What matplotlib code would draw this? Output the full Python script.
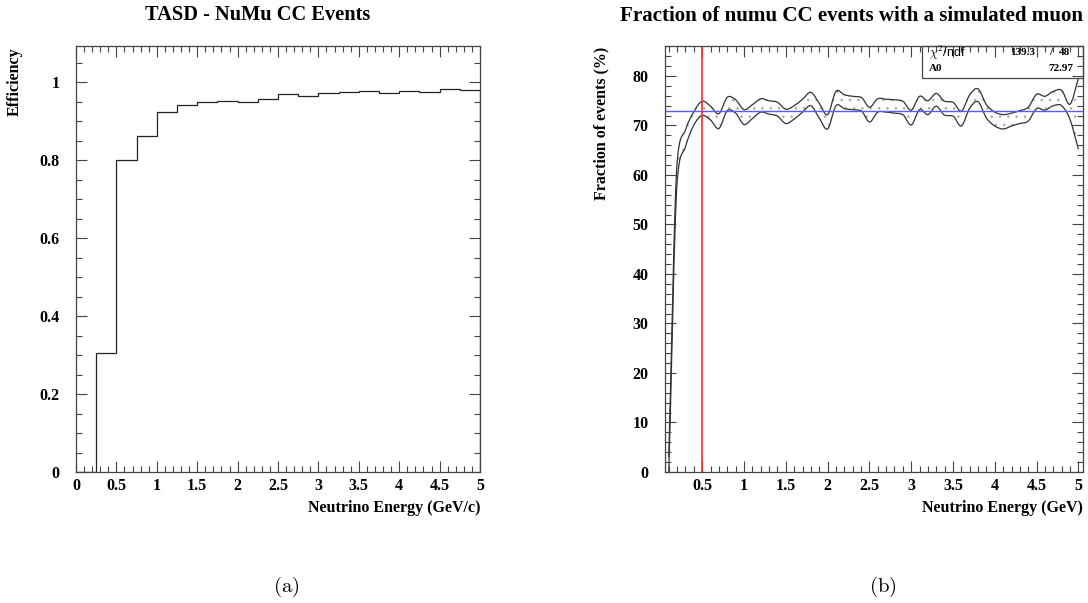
import numpy as np
import matplotlib
matplotlib.use("Agg")
import matplotlib.pyplot as plt
from matplotlib.path import Path
from matplotlib.patches import PathPatch, Rectangle
from matplotlib.ticker import MultipleLocator, FuncFormatter

# ---------------- data ----------------
# (a) efficiency histogram
eff_edges = [0.0, 0.25, 0.5, 0.75, 1.0, 1.25, 1.5, 1.75, 2.0, 2.25, 2.5,
             2.75, 3.0, 3.25, 3.5, 3.75, 4.0, 4.25, 4.5, 4.75, 5.0]
eff_values = [0.0, 0.305, 0.800, 0.861, 0.923, 0.942, 0.950, 0.952, 0.950,
              0.956, 0.969, 0.965, 0.972, 0.975, 0.978, 0.972, 0.978, 0.975,
              0.983, 0.979]

# (b) fraction of events, error band (upper / lower) at bin centres
frac_x = [0.1, 0.2, 0.3, 0.4, 0.5, 0.6, 0.7, 0.8, 0.9, 1.0,
          1.1, 1.2, 1.3, 1.4, 1.5, 1.6, 1.7, 1.8, 1.9, 2.0,
          2.1, 2.2, 2.3, 2.4, 2.5, 2.6, 2.7, 2.8, 2.9, 3.0,
          3.1, 3.2, 3.3, 3.4, 3.5, 3.6, 3.7, 3.8, 3.9, 4.0,
          4.1, 4.2, 4.3, 4.4, 4.5, 4.6, 4.7, 4.8, 4.9, 5.0]
frac_upper = [3.0, 62.5, 69.1, 72.8, 74.9, 73.9, 72.4, 75.7, 75.2, 73.2,
              74.2, 75.4, 75.0, 74.7, 73.3, 74.0, 75.3, 76.7, 74.5, 72.2,
              76.9, 76.2, 75.9, 75.7, 73.7, 75.4, 75.3, 75.2, 74.9, 73.1,
              75.9, 75.0, 76.5, 74.9, 74.7, 72.9, 76.2, 77.4, 74.2, 72.7,
              72.2, 72.5, 73.0, 73.7, 76.3, 75.9, 76.9, 77.1, 74.3, 79.5]
frac_lower = [0.0, 58.5, 65.7, 70.1, 72.0, 71.1, 69.4, 73.0, 72.5, 70.2,
              71.4, 72.7, 72.3, 71.9, 70.4, 71.3, 72.7, 74.0, 71.5, 69.3,
              74.0, 73.4, 73.2, 73.0, 70.7, 72.7, 72.7, 72.5, 72.2, 70.1,
              73.2, 72.2, 73.9, 72.1, 71.9, 69.9, 73.5, 74.8, 71.5, 69.9,
              69.3, 69.9, 70.4, 70.9, 73.4, 73.1, 74.0, 74.0, 71.2, 65.2]
fit_A0 = 72.97
fit_chi2 = 139.3
fit_ndf = 48
cut_energy = 0.5

# ---------------- style ----------------
SERIF = "Liberation Serif"
frame_col = "#444444"
W, H = 1088, 603
plt.rcParams["mathtext.fontset"] = "cm"
plt.rcParams["hatch.linewidth"] = 0.6
fig = plt.figure(figsize=(W / 100, H / 100), dpi=100)


def ax_rect(l, t, r, b):
    return [l / W, 1 - b / H, (r - l) / W, (b - t) / H]


def style_axes(ax):
    for s in ax.spines.values():
        s.set_color(frame_col)
        s.set_linewidth(0.9)
    ax.tick_params(which="both", direction="in", top=True, right=True,
                   color=frame_col, width=0.8, labelsize=11.5, pad=4)
    ax.tick_params(which="major", length=8)
    ax.tick_params(which="minor", length=4.3)
    ax.tick_params(axis="y", which="both", pad=12)
    for lab in ax.get_xticklabels() + ax.get_yticklabels():
        lab.set_fontfamily(SERIF)
        lab.set_fontweight("bold")


gfmt = FuncFormatter(lambda v, p: "%g" % round(v, 6))

# ---------------- (a) ----------------
axa = fig.add_axes(ax_rect(76, 46, 480, 472))
axa.stairs(eff_values, eff_edges, color="#222222", linewidth=0.9)
axa.set_xlim(0, 5)
axa.set_ylim(0, 1.0925)
axa.xaxis.set_major_locator(MultipleLocator(0.5))
axa.xaxis.set_minor_locator(MultipleLocator(0.1))
axa.yaxis.set_major_locator(MultipleLocator(0.2))
axa.yaxis.set_minor_locator(MultipleLocator(0.05))
axa.xaxis.set_major_formatter(gfmt)
axa.yaxis.set_major_formatter(gfmt)
style_axes(axa)

fig.text(258 / W, 1 - 15.5 / H, "TASD - NuMu CC Events", ha="center",
         va="center", family=SERIF, weight="bold", size=14.7)
fig.text(15 / W, 1 - 47 / H, "Efficiency", rotation=90, ha="center",
         va="top", family=SERIF, weight="bold", size=11.5)
fig.text(480 / W, 1 - 508.5 / H, "Neutrino Energy (GeV/c)", ha="right",
         va="center", family=SERIF, weight="bold", size=11.5)

# ---------------- (b) ----------------
axb = fig.add_axes(ax_rect(665, 46, 1083, 472))
axb.set_xlim(0.055, 5.055)
axb.set_ylim(0, 86.06)


def smooth_path_vertices(xs, ys):
    """Smooth curve through the points (Catmull-Rom tangents, limited to
    avoid overshoot on monotone stretches), expressed as cubic Bezier
    control points that matplotlib draws with CURVE4 path segments."""
    x = np.asarray(xs, float)
    y = np.asarray(ys, float)
    n = len(x)
    h = np.diff(x)
    d = np.diff(y) / h
    m = np.empty(n)
    m[0], m[-1] = d[0], d[-1]
    for k in range(1, n - 1):
        mk = (y[k + 1] - y[k - 1]) / (x[k + 1] - x[k - 1])
        if d[k - 1] * d[k] > 0:
            lim = 3 * min(abs(d[k - 1]), abs(d[k]))
            mk = np.sign(mk) * min(abs(mk), lim)
        m[k] = mk
    verts = [(x[0], y[0])]
    for i in range(n - 1):
        verts.append((x[i] + h[i] / 3, y[i] + m[i] * h[i] / 3))
        verts.append((x[i + 1] - h[i] / 3, y[i + 1] - m[i + 1] * h[i] / 3))
        verts.append((x[i + 1], y[i + 1]))
    return np.array(verts)


vu = smooth_path_vertices(frac_x, frac_upper)
vl = smooth_path_vertices(frac_x, frac_lower)
codes_line = [Path.MOVETO] + [Path.CURVE4] * (len(vu) - 1)

# dotted band fill
band_verts = np.vstack([vu, vl[::-1], vu[:1]])
band_codes = ([Path.MOVETO] + [Path.CURVE4] * (len(vu) - 1)
              + [Path.LINETO] + [Path.CURVE4] * (len(vl) - 1)
              + [Path.CLOSEPOLY])
band = PathPatch(Path(band_verts, band_codes), facecolor="none",
                 edgecolor="#aaaaaa", linewidth=0, hatch="..")
axb.add_patch(band)

for v in (vu, vl):
    axb.add_patch(PathPatch(Path(v, codes_line), facecolor="none",
                            edgecolor="#333333", linewidth=0.9))

axb.axhline(fit_A0, color="#5a5aff", linewidth=1.0)
axb.axvline(cut_energy, color="#ff2a2a", linewidth=1.2)

axb.xaxis.set_major_locator(MultipleLocator(0.5))
axb.xaxis.set_minor_locator(MultipleLocator(0.1))
axb.yaxis.set_major_locator(MultipleLocator(10))
axb.yaxis.set_minor_locator(MultipleLocator(2))
axb.xaxis.set_major_formatter(gfmt)
axb.yaxis.set_major_formatter(gfmt)
style_axes(axb)

# stats box
axb.add_patch(Rectangle((0.614, 0.924), 0.386, 0.076, transform=axb.transAxes,
                        fill=False, edgecolor="#444444", linewidth=0.9,
                        clip_on=False))
axb.text(0.632, 0.984, r"$\chi^2$/ndf", transform=axb.transAxes, ha="left",
         va="center", family="Liberation Sans", size=9)
axb.text(0.885, 0.984, "%.1f" % fit_chi2, transform=axb.transAxes, ha="right",
         va="center", family=SERIF, weight="bold", size=8)
axb.text(0.923, 0.984, "/", transform=axb.transAxes, ha="center",
         va="center", family=SERIF, weight="bold", size=8)
axb.text(0.970, 0.984, "%d" % fit_ndf, transform=axb.transAxes, ha="right",
         va="center", family=SERIF, weight="bold", size=8)
axb.text(0.632, 0.948, "A0", transform=axb.transAxes, ha="left",
         va="center", family=SERIF, weight="bold", size=8)
axb.text(0.977, 0.948, "%.2f" % fit_A0, transform=axb.transAxes, ha="right",
         va="center", family=SERIF, weight="bold", size=8)

fig.text(851.5 / W, 1 - 16 / H,
         "Fraction of numu CC events with a simulated muon", ha="center",
         va="center", family=SERIF, weight="bold", size=15.1)
fig.text(601.7 / W, 1 - 47 / H, "Fraction of events (%)", rotation=90,
         ha="center", va="top", family=SERIF, weight="bold", size=11.5)
fig.text(1082.7 / W, 1 - 508.5 / H, "Neutrino Energy (GeV)", ha="right",
         va="center", family=SERIF, weight="bold", size=11.5)

# sub-figure captions
fig.text(286.5 / W, 1 - 587 / H, r"$\mathrm{(a)}$", ha="center", va="center",
         size=15)
fig.text(883 / W, 1 - 587 / H, r"$\mathrm{(b)}$", ha="center", va="center",
         size=15)

fig.savefig("out.png", dpi=100)
